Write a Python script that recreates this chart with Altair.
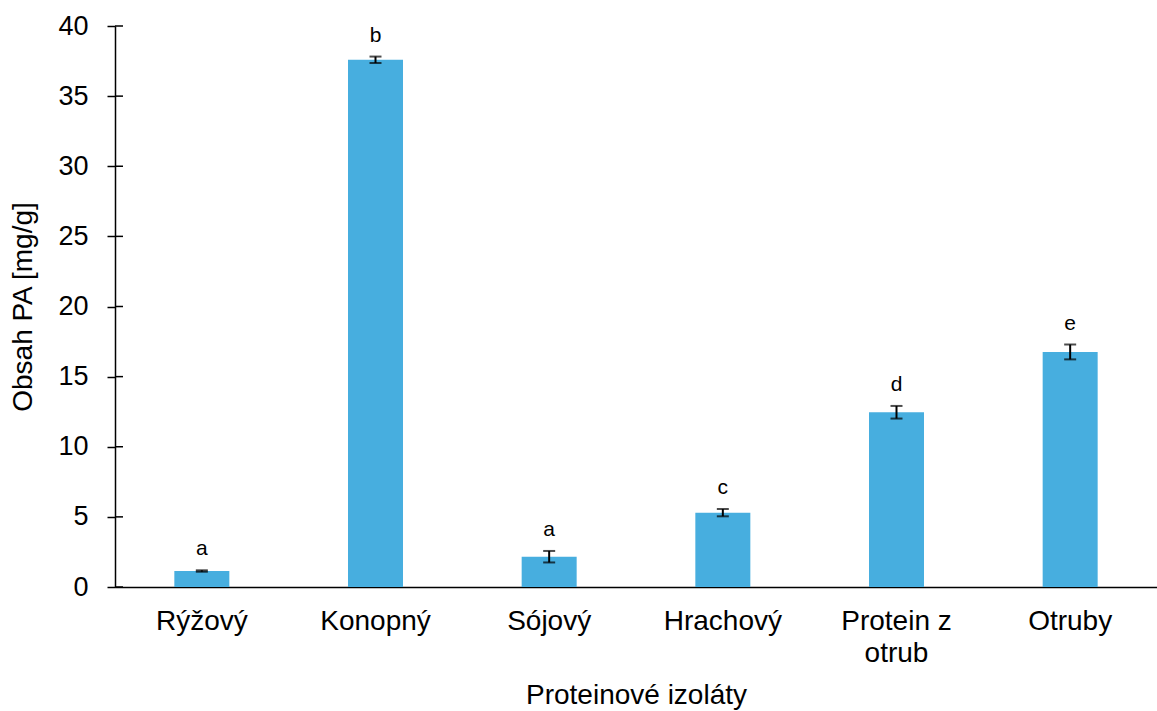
import altair as alt
import pandas as pd

# Phytic acid content per protein isolate (mean, standard deviation, significance group)
categories = ["Rýžový", "Konopný", "Sójový", "Hrachový", "Protein z otrub", "Otruby"]
means = [1.14, 37.59, 2.16, 5.30, 12.46, 16.76]
errors = [0.05, 0.23, 0.41, 0.26, 0.45, 0.53]
letters = ["a", "b", "a", "c", "d", "e"]
y_ticks = [0, 5, 10, 15, 20, 25, 30, 35, 40]

df = pd.DataFrame({
    "izolat": categories,
    "obsah": means,
    "sd": errors,
    "skupina": letters,
})
df["dolni"] = df["obsah"] - df["sd"]
df["horni"] = df["obsah"] + df["sd"]

ticks_df = pd.DataFrame({"tick": y_ticks})

FONT = "Liberation Sans"
BAR_COLOR = "#47AEDF"

x_enc = alt.X(
    "izolat:N",
    sort=categories,
    scale=alt.Scale(paddingInner=0, paddingOuter=0),
    axis=alt.Axis(
        title="Proteinové izoláty",
        labelAngle=0,
        labelExpr="datum.value == 'Protein z otrub' ? ['Protein z', 'otrub'] : datum.value",
        ticks=False,
        tickSize=0,
        labelPadding=20,
        labelLineHeight=32,
        titlePadding=14,
    ),
)

y_scale = alt.Scale(domain=[0, 40], nice=False, zero=True)

bars = alt.Chart(df).mark_bar(size=55, color=BAR_COLOR).encode(
    x=x_enc,
    y=alt.Y(
        "obsah:Q",
        scale=y_scale,
        axis=alt.Axis(
            title="Obsah PA [mg/g]",
            values=y_ticks,
            grid=False,
            tickSize=8,
            labelPadding=19,
            labelFontSize=27,
            titlePadding=20,
        ),
    ),
)

whiskers = alt.Chart(df).mark_rule(color="black", strokeWidth=2).encode(
    x=alt.X("izolat:N", sort=categories),
    y=alt.Y("dolni:Q", scale=y_scale),
    y2="horni:Q",
)

caps_lo = alt.Chart(df).mark_tick(color="black", size=12, thickness=2).encode(
    x=alt.X("izolat:N", sort=categories),
    y=alt.Y("dolni:Q", scale=y_scale),
)
caps_hi = alt.Chart(df).mark_tick(color="black", size=12, thickness=2).encode(
    x=alt.X("izolat:N", sort=categories),
    y=alt.Y("horni:Q", scale=y_scale),
)

labels = alt.Chart(df).mark_text(
    font=FONT, fontSize=21, color="black", baseline="bottom", dy=-11
).encode(
    x=alt.X("izolat:N", sort=categories),
    y=alt.Y("horni:Q", scale=y_scale),
    text="skupina:N",
)

# inner half of the cross-style y ticks
inner_ticks = alt.Chart(ticks_df).mark_rule(color="black", strokeWidth=1.5).encode(
    x=alt.value(0),
    x2=alt.value(8),
    y=alt.Y("tick:Q", scale=y_scale),
)

chart = (
    alt.layer(bars, whiskers, caps_lo, caps_hi, labels, inner_ticks)
    .properties(
        width=1042,
        height=561,
        autosize=alt.AutoSizeParams(type="none"),
        padding={"left": 115, "top": 26, "right": 0, "bottom": 124},
        background="white",
    )
    .configure_view(stroke=None)
    .configure_axis(
        labelFont=FONT,
        titleFont=FONT,
        labelFontSize=28,
        titleFontSize=28,
        titleFontWeight="normal",
        labelColor="black",
        titleColor="black",
        domainColor="black",
        domainWidth=1.5,
        tickColor="black",
        tickWidth=1.5,
    )
)

chart.save("out.html", embed_options={"renderer": "svg", "actions": False})
